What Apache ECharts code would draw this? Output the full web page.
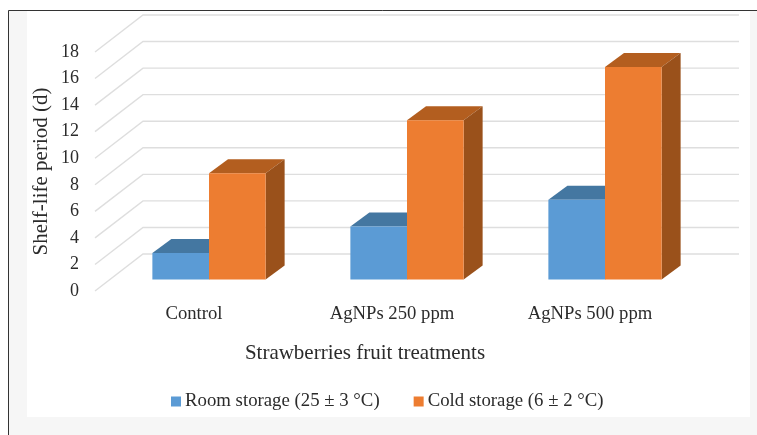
<!DOCTYPE html>
<html><head><meta charset="utf-8">
<style>html,body{margin:0;padding:0;background:#fff}#c{width:757px;height:435px;filter:blur(0.45px)}</style>
<script src="https://cdn.jsdelivr.net/npm/echarts@6/dist/echarts.min.js"></script>
</head><body><div id="c"></div>
<script>
const categories = ['Control', 'AgNPs 250 ppm', 'AgNPs 500 ppm'];
const roomStorage = [2, 4, 6];
const coldStorage = [8, 12, 16];
const yTicks = [0, 2, 4, 6, 8, 10, 12, 14, 16, 18];
const seriesNames = ['Room storage (25 ± 3 °C)', 'Cold storage (6 ± 2 °C)'];
const xTitle = 'Strawberries fruit treatments';
const yTitle = 'Shelf-life period (d)';

const FONT = '"Liberation Serif", "Times New Roman", serif';
const TEXT = '#2b2b2b';
// oblique projection of the chart's depth
const WALL = [48, -37], BAR_BASE = [15, -11.5], BAR_DEPTH = [19, -14];
const BAR_FRAC = 0.286;

function gridRender(params, api) {
  const v = api.value(1);
  const cs = params.coordSys;
  const p = api.coord([0, v]);
  const x0 = cs.x, y0 = p[1];
  return { type: 'polyline', silent: true,
    shape: { points: [[x0, y0], [x0 + WALL[0], y0 + WALL[1]], [x0 + cs.width + WALL[0] + 2, y0 + WALL[1]]] },
    style: { fill: null, stroke: '#dedede', lineWidth: 1.4 } };
}
function barRender(side, colors) {
  return function (params, api) {
    const c = api.coord([api.value(0), api.value(1)]);
    const base = api.coord([api.value(0), 0]);
    const w = api.size([1, 0])[0] * BAR_FRAC;
    const xl = c[0] + BAR_BASE[0] + (side < 0 ? -w : 0), xr = xl + w;
    const yt = c[1] + BAR_BASE[1], yb = base[1] + BAR_BASE[1];
    const dx = BAR_DEPTH[0], dy = BAR_DEPTH[1];
    return { type: 'group', children: [
      { type: 'polygon', shape: { points: [[xl, yt], [xl + dx, yt + dy], [xr + dx, yt + dy], [xr, yt]] }, style: { fill: colors.top } },
      { type: 'polygon', shape: { points: [[xr, yt], [xr + dx, yt + dy], [xr + dx, yb + dy], [xr, yb]] }, style: { fill: colors.side } },
      { type: 'rect', shape: { x: xl, y: yt, width: w, height: yb - yt }, style: { fill: colors.front } }
    ] };
  };
}
const blue = { front: '#5b9bd5', top: '#4477a1', side: '#3f6f98' };
const orange = { front: '#ed7d31', top: '#b35e1f', side: '#9a511b' };

const chart = echarts.init(document.getElementById('c'), null, { renderer: 'canvas' });
chart.setOption({
  animation: false,
  backgroundColor: '#fff',
  graphic: [
    { type: 'rect', z: -10, shape: { x: 8, y: 10, width: 749, height: 425 }, style: { fill: '#f6f6f6' } },
    { type: 'rect', z: -9, shape: { x: 27, y: 11, width: 723, height: 406 }, style: { fill: '#ffffff' } },
    { type: 'polyline', z: -8, shape: { points: [[8.5, 435], [8.5, 10.5], [757, 10.5]] }, style: { fill: null, stroke: '#333', lineWidth: 1 } }
  ],
  grid: { left: 95, top: 52, width: 594, height: 239, containLabel: false },
  legend: {
    data: seriesNames, left: 171, top: 392, padding: 0, itemWidth: 10, itemHeight: 10, itemGap: 34,
    icon: 'rect', textStyle: { fontFamily: FONT, fontSize: 18.8, color: TEXT, padding: [0, 0, 0, -1] }
  },
  xAxis: {
    type: 'category', data: categories,
    axisLine: { show: false }, axisTick: { show: false }, splitLine: { show: false },
    axisLabel: { fontFamily: FONT, fontSize: 18.7, color: TEXT, margin: 14 },
    name: xTitle, nameLocation: 'middle', nameGap: 52, nameMoveOverlap: false,
    nameTextStyle: { fontFamily: FONT, fontSize: 21, color: TEXT, padding: [0, 54, 0, 0] }
  },
  yAxis: {
    type: 'value', min: 0, max: 18, interval: 2,
    axisLine: { show: false }, axisTick: { show: false }, splitLine: { show: false },
    axisLabel: { fontFamily: FONT, fontSize: 18, color: TEXT, margin: 16 },
    name: yTitle, nameLocation: 'middle', nameGap: 43, nameRotate: 90, nameMoveOverlap: false,
    nameTextStyle: { fontFamily: FONT, fontSize: 21, color: TEXT }
  },
  series: [
    { type: 'custom', name: 'grid', z: 1, silent: true, renderItem: gridRender, data: yTicks.map(v => [0, v]), encode: { x: 0, y: 1 } },
    { type: 'custom', name: seriesNames[0], z: 2, itemStyle: { color: blue.front }, renderItem: barRender(-1, blue),
      data: roomStorage.map((v, i) => [i, v]), encode: { x: 0, y: 1 } },
    { type: 'custom', name: seriesNames[1], z: 3, itemStyle: { color: orange.front }, renderItem: barRender(1, orange),
      data: coldStorage.map((v, i) => [i, v]), encode: { x: 0, y: 1 } }
  ]
});
</script></body></html>
